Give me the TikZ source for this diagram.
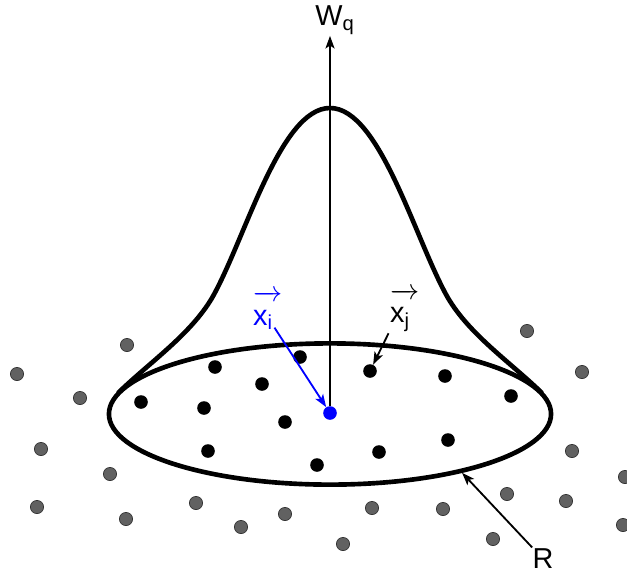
\documentclass[tikz,border=0pt]{standalone}
\usepackage{amsmath}
\usepackage{fontspec}
\setmainfont{Liberation Sans}
\usetikzlibrary{shapes.geometric, arrows.meta, positioning}
\newcommand{\vecx}[1]{\rlap{\raisebox{0.3em}{$\overrightarrow{\phantom{\text{x}}}$}}x\textsubscript{#1}}

\begin{document}
\begin{tikzpicture}[x=0.025cm, y=-0.025cm,
bdot/.style={circle, fill=black, inner sep=0pt, minimum size=0.34cm}, gdot/.style={circle,
fill=black!62, draw=black!80, line width=0.5pt, inner sep=0pt, minimum size=0.33cm},
lbl/.style={font=\fontsize{20.5}{24}\selectfont, inner sep=1pt}, arr/.style={-{Stealth[length=9pt,
width=6.5pt, inset=2.2pt]}, line width=1.3pt}, bold/.style={line width=3.3pt, line join=round} ]
\useasboundingbox (0,0) rectangle (627,575);
% points outside the region
\foreach \p [count=\k] in {(127,345),(17,374),(80,398),(41,449),(110,474),(37,507),(126,519),
(196,503),(241,527),(285,514),(343,544),(372,508),(443,509),(493,539),(507,494),(566,501),
(572,451),(582,372),(527,331),(625,477),(623,525)}
\node[gdot] (g\k) at \p {};
% kernel and region
\draw[bold] (118,393) .. controls (150,362) and (190,335) .. (212,298)
.. controls (245,240) and (280,108) .. (330,108) .. controls (380,108) and (415,240) .. (448,298)
.. controls (470,335) and (510,362) .. (542,393);
\node[draw, ellipse, bold, minimum width=11.05cm, minimum height=3.53cm, inner sep=0pt] (region)
at (330,414) {};
% points inside the region
\foreach \p [count=\k] in {(215,367),(300,357),(262,384),(141,402),(204,408),(285,422),
(445,376),(511,396),(208,451),(317,465),(379,452),(448,440)}
\node[bdot] (b\k) at \p {};
\node[bdot] (xjdot) at (370,371) {};
\node[bdot, fill=blue] (c) at (330,413) {};
\node[lbl] (wq) at (335,20) {W\textsubscript{q}};
\draw[arr] (c.north) -- (c.north |- wq.south);
\node[lbl, text=blue] (xi) at (263,310) {\vecx{i}};
\draw[arr, blue] (xi) -- (c);
\node[lbl] (xj) at (400,310) {\vecx{j}};
\draw[arr] (xj) -- (xjdot);
\node[lbl] (r) at (543,559) {R};
\draw[arr] (r) -- (region.-24);
\end{tikzpicture}
\end{document}
